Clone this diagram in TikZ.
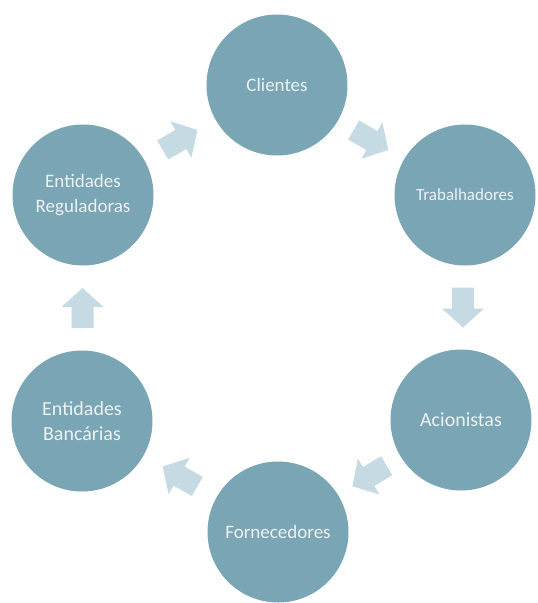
\documentclass[tikz,border=0pt]{standalone}
\usepackage{fontspec}
\setmainfont{Carlito}
\usetikzlibrary{calc}
\definecolor{stagefill}{RGB}{122,165,180}
\definecolor{flowfill}{RGB}{197,218,226}
\definecolor{stagetext}{RGB}{236,242,243}
\tikzset{
  stage/.style={circle, fill=stagefill, minimum size=141pt, inner sep=0pt,
    text=stagetext, align=center, font=\fontsize{19}{25}\selectfont},
  flow arrow/.pic={
    \fill[flowfill] (-20,-11) -- (1,-11) -- (1,-21) -- (20,0) -- (1,21)
      -- (1,11) -- (-20,11) -- cycle;
  },
}

\begin{document}
\begin{tikzpicture}[x=1pt, y=-1pt]
  \useasboundingbox (0,0) rectangle (538,603);

  % Stages of the cycle
  \node[stage] (cli) at (277,85) {Clientes};
  \node[stage, font=\fontsize{17}{22}\selectfont] (trab) at (465,195) {Trabalhadores};
  \node[stage, font=\fontsize{20}{25}\selectfont] (acio) at (461,420) {Acionistas};
  \node[stage] (forn) at (278,532) {Fornecedores};
  \node[stage, font=\fontsize{20}{25}\selectfont] (banc) at (82,421) {Entidades\\Bancárias};
  \node[stage] (reg) at (83,195) {Entidades\\Reguladoras};

  % Arrows between the stages
  \pic[rotate=-30] at ($(cli)!0.5!(trab)$) {flow arrow};
  \pic[rotate=-90] at ($(trab)!0.5!(acio)$) {flow arrow};
  \pic[rotate=-149] at ($(acio)!0.5!(forn)$) {flow arrow};
  \pic[rotate=150] at ($(forn)!0.5!(banc)$) {flow arrow};
  \pic[rotate=90] at ($(banc)!0.5!(reg)$) {flow arrow};
  \pic[rotate=30] at ($(reg)!0.5!(cli)$) {flow arrow};
\end{tikzpicture}
\end{document}
